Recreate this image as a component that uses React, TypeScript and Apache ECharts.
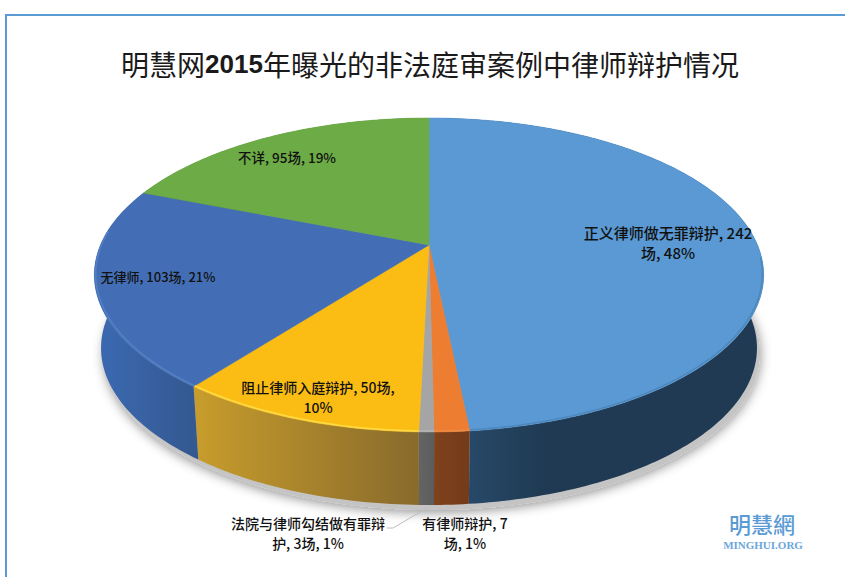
import React, { useEffect, useRef } from "react";
import * as echarts from "echarts";

const categories = ["正义律师做无罪辩护", "有律师辩护", "法院与律师勾结做有罪辩护", "阻止律师入庭辩护", "无律师", "不详"];
const caseCounts = [242, 7, 3, 50, 103, 95];
const percents = [48, 1, 1, 10, 21, 19];
const labelBreaks = [", 242\n场, 48%", ", 7\n场, 1%", "", ", 50场,\n10%", ", 103场, 21%", ", 95场, 19%"];
const titleParts = ["明慧网", "2015", "年曝光的非法庭审案例中律师辩护情况"];

const topColors = ["#5A99D3", "#ED7D31", "#A5A5A5", "#FBBD14", "#436EB5", "#6DAB46"];
const sideStart = ["#2B5074", "#7E421C", "#646464", "#C89D2C", "#3B6AB3", "#4F7F33"];
const sideEnd = ["#1F3A52", "#743B1A", "#5C5C5C", "#886A2C", "#34588F", "#4F7F33"];
const rimColors = ["#4C88BD", "#F08A42", "#B5B5B5", "#FFDC45", "#5480C4", "#6DAB46"];
const labelAnchors: [number, number][] = [[668, 242], [465, 533], [308, 533], [318, 397], [158, 276], [287, 157]];
const labelSizes = [15, 14, 14, 14, 13, 13.5];

const total = caseCounts.reduce((a, b) => a + b, 0);
const CX = 429, CY = 245, A = 328.5, B = 151.3, K = 0.191;
const DEPTH = 73, BOTTOM_SCALE = 0.98;

const topPoint = (deg: number): [number, number] => {
  const t = (deg * Math.PI) / 180;
  const u = Math.sin(t), v = -Math.cos(t), d = 1 - K * v;
  return [CX + (A * u) / d, CY + (B * v) / d];
};
const bottomPoint = (deg: number): [number, number] => {
  const [x, y] = topPoint(deg);
  return [CX + (x - CX) * BOTTOM_SCALE, y + DEPTH];
};
const arc = (from: number, to: number, fn: (d: number) => [number, number]) => {
  const n = Math.max(2, Math.ceil(to - from));
  const pts: [number, number][] = [];
  for (let i = 0; i <= n; i++) pts.push(fn(from + ((to - from) * i) / n));
  return pts;
};
const sliceAngles = (i: number) => {
  const before = caseCounts.slice(0, i).reduce((a, b) => a + b, 0);
  return [(before / total) * 360, ((before + caseCounts[i]) / total) * 360];
};

const sliceData = caseCounts.map((v, i) => ({ name: categories[i], value: v }));

export default function App() {
  const ref = useRef<HTMLDivElement>(null);
  useEffect(() => {
    const chart = echarts.init(ref.current!, null, { renderer: "svg" });
    chart.setOption({
      animation: false,
      backgroundColor: "#ffffff",
      title: {
        left: 425,
        top: 45,
        textAlign: "center",
        text: `{a|${titleParts[0]}}{b|${titleParts[1]}}{a|${titleParts[2]}}`,
        textStyle: {
          rich: {
            a: { fontFamily: "Noto Sans CJK SC", fontSize: 28, fontWeight: 400, color: "#1a1a1a" },
            b: { fontFamily: "Liberation Sans", fontSize: 26, fontWeight: 700, color: "#1a1a1a" },
          },
        },
      },
      graphic: [
        { type: "line", z: 0, silent: true, shape: { x1: 6, y1: 15, x2: 845, y2: 15 }, style: { stroke: "#5B9BD5", lineWidth: 2 } },
        { type: "line", z: 0, silent: true, shape: { x1: 6, y1: 14, x2: 6, y2: 577 }, style: { stroke: "#5B9BD5", lineWidth: 2 } },
        {
          type: "polygon", z: 0, silent: true,
          shape: { points: arc(0, 360, bottomPoint).map(([x, y]) => [x + 3, y + 5]) },
          style: { fill: "#C4C4C4", shadowBlur: 12, shadowColor: "rgba(0,0,0,0.45)", shadowOffsetX: 0, shadowOffsetY: 2 },
        },
        { type: "polyline", z: 5, silent: true, shape: { points: [[427, 508], [393, 528], [387, 528]] }, style: { stroke: "#BDBDBD", lineWidth: 1, fill: "none" } },
        { type: "text", z: 5, silent: true, style: { x: 762, y: 523, text: "明慧網", align: "center", verticalAlign: "middle", fontFamily: "Noto Sans CJK TC", fontSize: 22, fontWeight: 500, fill: "#5B9BD5" } },
        { type: "text", z: 5, silent: true, style: { x: 763, y: 545, text: "MINGHUI.ORG", align: "center", verticalAlign: "middle", fontFamily: "Liberation Serif", fontSize: 11, fontWeight: 700, fill: "#6BA6DA" } },
      ],
      series: [
        {
          type: "custom", coordinateSystem: "none", z: 2, silent: true, data: sliceData,
          renderItem: (p: any) => {
            const i = p.dataIndex;
            const [a0, a1] = sliceAngles(i);
            return {
              type: "polygon",
              shape: { points: [...arc(a0, a1, topPoint), ...arc(a0, a1, bottomPoint).reverse()] },
              style: {
                fill: new echarts.graphic.LinearGradient(0, 0, 1, 0, [
                  { offset: 0, color: sideStart[i] },
                  { offset: i === 0 ? 0.35 : 1, color: sideEnd[i] },
                  { offset: 1, color: sideEnd[i] },
                ]),
              },
            };
          },
        },
        {
          type: "custom", coordinateSystem: "none", z: 3, silent: true, data: sliceData,
          renderItem: (p: any) => {
            const i = p.dataIndex;
            const [a0, a1] = sliceAngles(i);
            return {
              type: "polygon",
              shape: { points: [[CX, CY], ...arc(a0, a1, topPoint)] },
              style: { fill: topColors[i], stroke: topColors[i], lineWidth: 0.5 },
            };
          },
        },
        {
          type: "custom", coordinateSystem: "none", z: 4, silent: true, data: sliceData,
          renderItem: (p: any, api: any) => {
            const i = p.dataIndex;
            const [a0, a1] = sliceAngles(i);
            // front rim only: the lower half of the disc
            const from = Math.max(a0, 95), to = Math.min(a1, 275);
            const children: any[] = [];
            if (to > from) {
              children.push({
                type: "polyline",
                shape: { points: arc(from, to, (d) => { const [x, y] = topPoint(d); return [CX + (x - CX) * 0.996, y - 1]; }) },
                style: { stroke: rimColors[i], lineWidth: 1.5, fill: "none" },
              });
            }
            const [lx, ly] = labelAnchors[i];
            const tail = labelBreaks[i];
            const text = i === 2
              ? `${categories[i].slice(0, 11)}\n${categories[i].slice(11)}, ${api.value(0)}场, ${percents[i]}%`
              : `${categories[i]}${tail}`;
            children.push({
              type: "text",
              style: {
                x: lx, y: ly, text, align: "center", verticalAlign: "middle",
                fontFamily: "Noto Sans CJK SC", fontSize: labelSizes[i], fontWeight: 500, lineHeight: 20, fill: "#111111",
              },
            });
            return { type: "group", children };
          },
        },
      ],
    });
    return () => chart.dispose();
  }, []);
  return <div ref={ref} style={{ position: "absolute", left: 0, top: 0, width: 845, height: 577 }} />;
}
